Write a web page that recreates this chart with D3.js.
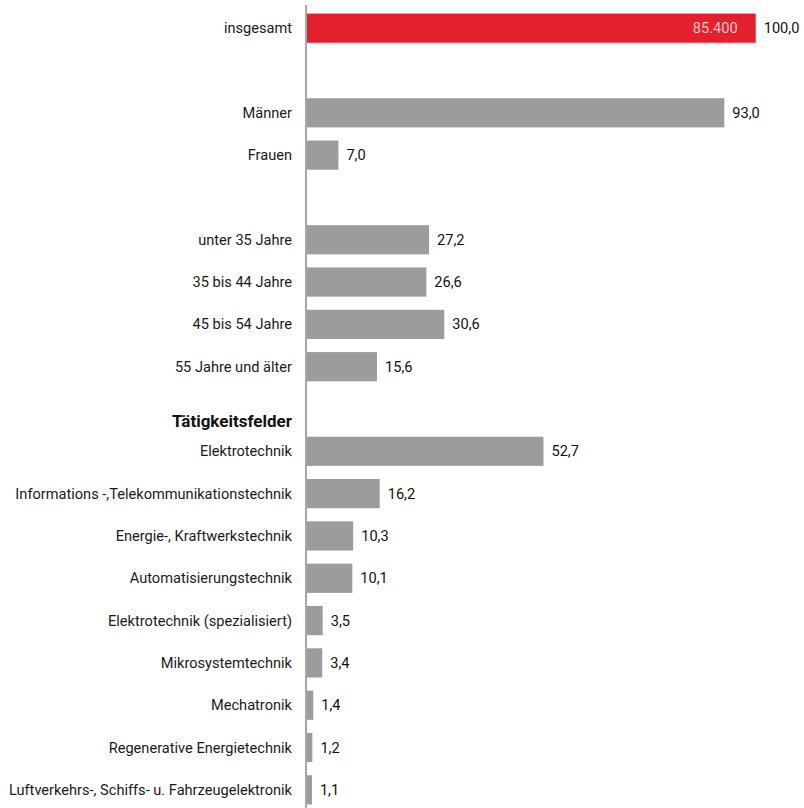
<!DOCTYPE html>
<html><head><meta charset="utf-8">
<script src="https://cdn.jsdelivr.net/npm/d3@7"></script>
<style>body{margin:0;background:#fff}svg{display:block}</style>
</head><body>
<script>
const categories = ["insgesamt","", "Männer","Frauen","", "unter 35 Jahre","35 bis 44 Jahre","45 bis 54 Jahre","55 Jahre und älter","Tätigkeitsfelder","Elektrotechnik","Informations -,Telekommunikationstechnik","Energie-, Kraftwerkstechnik","Automatisierungstechnik","Elektrotechnik (spezialisiert)","Mikrosystemtechnik","Mechatronik","Regenerative Energietechnik","Luftverkehrs-, Schiffs- u. Fahrzeugelektronik"];
const values = [100.0,null,93.0,7.0,null,27.2,26.6,30.6,15.6,null,52.7,16.2,10.3,10.1,3.5,3.4,1.4,1.2,1.1];
const valueLabels = ["100,0","","93,0","7,0","","27,2","26,6","30,6","15,6","","52,7","16,2","10,3","10,1","3,5","3,4","1,4","1,2","1,1"];
const headerRows = ["Tätigkeitsfelder"];
const totalCount = "85.400";

const W = 804, H = 808;
const svg = d3.select("body").append("svg").attr("width", W).attr("height", H);
const font = "Roboto, 'Liberation Sans', sans-serif";

const ids = categories.map((c,i)=>i);
const y = d3.scaleBand().domain(ids).range([7, 811]).paddingInner(0.31).paddingOuter(0.155);
const x = d3.scaleLinear().domain([0,100]).range([307, 755.7]);

const rows = ids.map(i=>({i, cat:categories[i], v:values[i], lab:valueLabels[i]}));

// bars
svg.selectAll("rect.bar").data(rows.filter(d=>d.v!=null)).join("rect")
  .attr("class","bar")
  .attr("x", x(0))
  .attr("y", d=>y(d.i))
  .attr("width", d=>x(d.v)-x(0))
  .attr("height", y.bandwidth())
  .attr("fill", d=>d.i===0 ? "#e4202c" : "#9b9c9c");

// axis line
svg.append("line").attr("x1",306).attr("x2",306).attr("y1",5).attr("y2",H)
  .attr("stroke","#8a8a8a").attr("stroke-width",1.5);

// category labels
svg.selectAll("text.cat").data(rows.filter(d=>d.cat && !headerRows.includes(d.cat))).join("text")
  .attr("class","cat")
  .attr("x", 292)
  .attr("y", d=>y(d.i)+y.bandwidth()/2)
  .attr("dy","0.35em")
  .attr("text-anchor","end")
  .attr("font-family",font).attr("font-size",14.6).attr("fill","#1a1a1a")
  .text(d=>d.cat);

// header
svg.selectAll("text.head").data(rows.filter(d=>headerRows.includes(d.cat))).join("text")
  .attr("class","head")
  .attr("x", 292)
  .attr("y", d=>y(d.i)+y.bandwidth()/2+12)
  .attr("dy","0.35em")
  .attr("text-anchor","end")
  .attr("font-family",font).attr("font-size",17).attr("font-weight","bold").attr("fill","#111")
  .text(d=>d.cat);

// value labels
svg.selectAll("text.val").data(rows.filter(d=>d.v!=null)).join("text")
  .attr("class","val")
  .attr("x", d=>x(d.v)+8)
  .attr("y", d=>y(d.i)+y.bandwidth()/2)
  .attr("dy","0.35em")
  .attr("font-family",font).attr("font-size",14.6).attr("fill","#111")
  .text(d=>d.lab);

// count inside top bar
svg.append("text")
  .attr("x", x(values[0])-18)
  .attr("y", y(0)+y.bandwidth()/2)
  .attr("dy","0.35em")
  .attr("text-anchor","end")
  .attr("font-family",font).attr("font-size",14.6).attr("fill","#f6c9cb")
  .text(totalCount);
</script>
</body></html>
